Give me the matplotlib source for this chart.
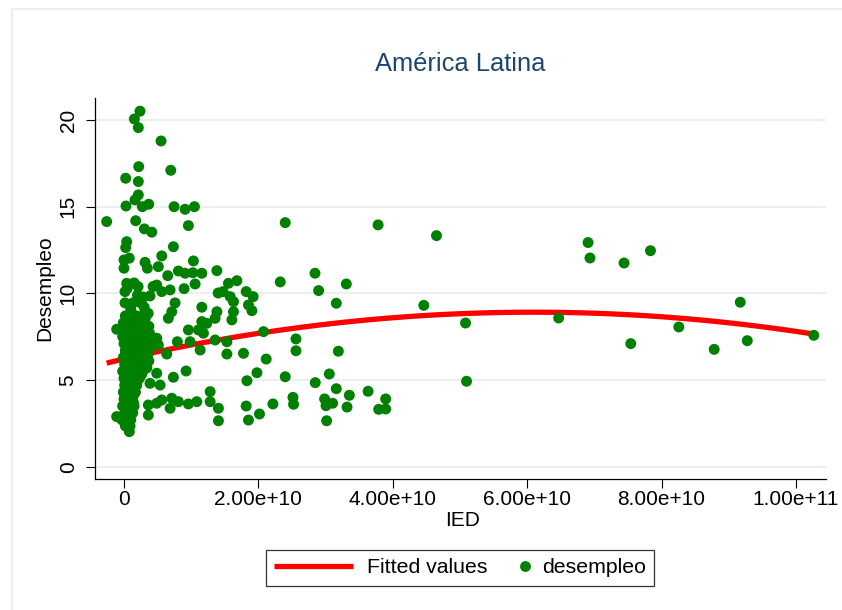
import numpy as np
import matplotlib
matplotlib.use("Agg")
import matplotlib.pyplot as plt
from matplotlib.lines import Line2D
from matplotlib.patches import Rectangle
from matplotlib.legend_handler import HandlerBase

plt.rcParams['font.family'] = ['Liberation Sans', 'DejaVu Sans']

# ---------------- data (IED in units of 1e10) ----------------
grpA_x = [0.238, 0.154, 0.213, 0.551, 0.219, 0.696, 0.025, 0.213, 0.213, 0.164,
          0.030, 0.273, 0.368, 0.745, 0.909, 1.048, -0.258, 0.174, 0.303, 0.413,
          0.958, 0.040, 0.025, 0.735, 0.562, 0.079, 0.000, 0.000, 0.313, 0.347,
          0.511, 1.033, 0.651, 0.809, 0.909, 1.024, 1.158, 1.382, 1.058, 0.894,
          2.325, 1.680, 1.554, 1.818, 1.922, 1.401, 1.475, 0.487, 0.432, 0.686,
          0.562, 0.387]
grpA_y = [20.51, 20.06, 19.56, 18.79, 17.31, 17.10, 16.64, 16.45, 15.68, 15.39,
          15.04, 15.00, 15.14, 15.00, 14.85, 15.00, 14.14, 14.19, 13.72, 13.53,
          13.91, 12.98, 12.64, 12.69, 12.16, 12.03, 11.93, 11.45, 11.79, 11.45,
          11.54, 11.87, 11.02, 11.29, 11.16, 11.19, 11.16, 11.31, 10.54, 10.27,
          10.66, 10.73, 10.58, 10.10, 9.81, 10.02, 10.10, 10.48, 10.39, 10.20,
          10.10, 9.85]

grpB_x = [0.015, 0.015, 0.134, 0.283, 1.158, 0.760, 0.711, 0.660, 1.382, 1.356,
          1.232, 1.158, 1.107, 1.580, 1.629, 1.629, 1.605, 1.852, 1.903, 0.958,
          0.984, 1.182, 1.133, 1.356, 1.531, 1.531, 1.778, 0.794, 2.076, 0.636,
          0.487, 0.511, 0.387, -0.109, 2.116, 0.735, 0.924, 0.487, 0.537, 0.387,
          1.829, 1.978, 2.399, 1.282, 1.282, 1.405, 1.405, 1.083, 0.958, 0.809,
          0.711, 0.686, 0.362, 1.818, 2.016, 1.852, 2.216, 0.487, 0.562, 0.362,
          -0.109, 0.079]
grpB_y = [10.10, 9.45, 9.45, 9.79, 9.20, 9.45, 8.94, 8.56, 8.94, 8.56,
          8.27, 8.37, 7.89, 9.81, 9.52, 8.94, 8.47, 9.33, 9.00, 7.89,
          7.21, 7.70, 6.73, 7.31, 7.21, 6.50, 6.54, 7.21, 7.79, 6.50,
          7.41, 7.02, 6.92, 7.93, 6.21, 5.16, 5.52, 5.39, 4.71, 4.81,
          4.96, 5.42, 5.19, 4.33, 3.75, 3.37, 2.65, 3.75, 3.62, 3.75,
          3.95, 3.37, 2.98, 3.50, 3.04, 2.69, 3.62, 3.66, 3.85, 3.56,
          2.89, 2.02]

grpC_x = [2.399, 3.781, 4.650, 2.842, 2.896, 3.308, 3.159, 4.461, 5.082, 6.468,
          2.559, 2.559, 3.189, 2.846, 3.055, 3.159, 3.353, 3.632, 3.894, 2.514,
          2.523, 2.985, 3.006, 3.104, 3.319, 3.790, 3.894, 3.015, 5.097, 6.905,
          6.934, 7.441, 7.834, 9.170, 8.256, 7.541, 8.782, 9.274, 10.264]
grpC_y = [14.08, 13.95, 13.33, 11.16, 10.16, 10.54, 9.43, 9.31, 8.29, 8.58,
          7.37, 6.69, 6.66, 4.85, 5.35, 4.50, 4.12, 4.35, 3.91, 4.00,
          3.60, 3.91, 3.52, 3.66, 3.44, 3.31, 3.33, 2.65, 4.93, 12.93,
          12.04, 11.75, 12.46, 9.49, 8.06, 7.10, 6.77, 7.27, 7.58]

extra_x = [0.04, 0.21, 0.26, 0.115, 0.36, 0.05, 0.15, 0.20, 0.10, 0.30]
extra_y = [10.58, 10.39, 9.43, 8.85, 8.85, 10.3, 10.6, 9.9, 9.1, 9.2]

# dense cluster near IED = 0, one row per unemployment level
cluster_row_y = [8.7, 8.5, 8.3, 8.1, 7.9, 7.7, 7.5, 7.3, 7.1, 6.9, 6.7, 6.5,
                 6.3, 6.1, 5.9, 5.7, 5.5, 5.3, 5.1, 4.9, 4.7, 4.5, 4.3, 4.1,
                 3.9, 3.7, 3.5, 3.3, 3.1, 2.7, 2.35]
cluster_row_x = [
    [0.02, 0.10, 0.18, 0.27, 0.33],
    [0.06, 0.14, 0.22, 0.31],
    [-0.01, 0.07, 0.14, 0.22, 0.30],
    [0.03, 0.11, 0.20, 0.28, 0.37],
    [0.01, 0.09, 0.17, 0.25, 0.34],
    [0.05, 0.13, 0.21, 0.30, 0.38],
    [-0.02, 0.05, 0.13, 0.21, 0.29],
    [0.02, 0.10, 0.18, 0.27, 0.36],
    [0.00, 0.08, 0.16, 0.24, 0.32],
    [0.04, 0.12, 0.21, 0.29, 0.40],
    [0.02, 0.10, 0.19, 0.27, 0.35],
    [0.02, 0.10, 0.18, 0.26, 0.36],
    [-0.01, 0.06, 0.14, 0.22, 0.30],
    [0.04, 0.13, 0.21, 0.29, 0.37],
    [0.01, 0.09, 0.17, 0.25, 0.33],
    [0.03, 0.11, 0.19, 0.27, 0.34],
    [-0.02, 0.05, 0.12, 0.20, 0.28],
    [0.02, 0.10, 0.18, 0.26],
    [0.00, 0.08, 0.15, 0.23],
    [0.04, 0.11, 0.19],
    [0.01, 0.07, 0.13, 0.19],
    [0.03, 0.09, 0.15],
    [-0.01, 0.05, 0.11, 0.17],
    [0.02, 0.08, 0.14],
    [0.00, 0.06, 0.12],
    [0.03, 0.09, 0.14],
    [-0.02, 0.04, 0.10, 0.15],
    [0.04, 0.10],
    [0.01, 0.07, 0.13],
    [-0.03, 0.04, 0.10],
    [0.02, 0.09],
]

# quadratic fit coefficients (IED in 1e10 units): c2, c1, c0
fit_coef = [-0.07269, 0.8863, 6.211]

xticks_e10 = [0, 2, 4, 6, 8, 10]
xtick_labels = ['0', '2.00e+10', '4.00e+10', '6.00e+10', '8.00e+10', '1.00e+11']
yticks = [0, 5, 10, 15, 20]
ytick_labels = ['0', '5', '10', '15', '20']

title = 'América Latina'
xlabel = 'IED'
ylabel = 'Desempleo'
legend_labels = ['Fitted values', 'desempleo']

# ---------------- assemble ----------------
cl_x, cl_y = [], []
for yy, xs in zip(cluster_row_y, cluster_row_x):
    for xx in xs:
        cl_x.append(xx)
        cl_y.append(yy)

ied = np.array(grpA_x + grpB_x + grpC_x + extra_x + cl_x) * 1e10
desempleo = np.array(grpA_y + grpB_y + grpC_y + extra_y + cl_y)

xfit_e10 = np.linspace(ied.min() / 1e10, ied.max() / 1e10, 100)
yfit = np.polyval(fit_coef, xfit_e10)

# ---------------- figure ----------------
W, H = 842, 610
fig = plt.figure(figsize=(W / 100, H / 100), dpi=100)
fig.patch.set_facecolor('white')

fig.add_artist(Rectangle((12 / W, -0.05), 1.0, 1 - 9 / H + 0.05,
                         transform=fig.transFigure, fill=False,
                         edgecolor='#E6EEF0', linewidth=1.2))

ax = fig.add_axes([95 / W, 1 - 479 / H, (826 - 95) / W, (479 - 98) / H])
ax.set_facecolor('white')

GREEN = '#008000'
RED = '#FF0000'

ax.plot(xfit_e10 * 1e10, yfit, color=RED, linewidth=3.8, zorder=2,
        solid_capstyle='butt')
ax.scatter(ied, desempleo, s=62, color=GREEN, edgecolors='none', zorder=3)

ax.set_xlim(-0.4315e10, 10.446e10)
ax.set_ylim(-0.71, 21.27)

ax.set_xticks(np.array(xticks_e10) * 1e10)
ax.set_xticklabels(xtick_labels)
ax.set_yticks(yticks)
ax.set_yticklabels(ytick_labels, rotation=90, va='center')

ax.tick_params(axis='both', direction='out', length=6.5, width=0.8,
               colors='black', labelsize=15)
ax.tick_params(axis='x', pad=1.5)
ax.tick_params(axis='y', pad=6)

ax.yaxis.grid(True, color='#E8F0F2', linewidth=1.5)
ax.xaxis.grid(False)
ax.set_axisbelow(True)

for s in ['top', 'right']:
    ax.spines[s].set_visible(False)
for s in ['left', 'bottom']:
    ax.spines[s].set_linewidth(0.9)
    ax.spines[s].set_color('black')

fig.text(460 / W, 1 - 71 / H, title, ha='center', va='baseline',
         fontsize=18.4, color='#1A476F')
fig.text(463 / W, 1 - 521 / H, xlabel, ha='center', va='center', fontsize=15)
fig.text(45 / W, 1 - 288 / H, ylabel, ha='center', va='center',
         rotation=90, fontsize=15)


class DotHandler(HandlerBase):
    def create_artists(self, legend, orig_handle, xdescent, ydescent,
                       width, height, fontsize, trans):
        d = Line2D([-xdescent + width - 2.0], [(height - ydescent) / 2],
                   marker='o', linestyle='none', color=GREEN,
                   markersize=7.8, markeredgewidth=0, transform=trans)
        return [d]


h_line = Line2D([], [], color=RED, linewidth=3.8, solid_capstyle='butt')
h_dot = Line2D([], [], marker='o', linestyle='none', color=GREEN)
leg = fig.legend([h_line, h_dot], legend_labels, loc='center',
                 bbox_to_anchor=(460 / W, 1 - 567.5 / H), ncol=2,
                 frameon=True, fancybox=False, edgecolor='black',
                 fontsize=15.3, handlelength=3.72, handletextpad=0.66,
                 borderpad=0.4, columnspacing=-1.84,
                 handler_map={h_dot: DotHandler()})
leg.get_frame().set_linewidth(0.9)

fig.savefig('out.png', dpi=100, facecolor='white')
